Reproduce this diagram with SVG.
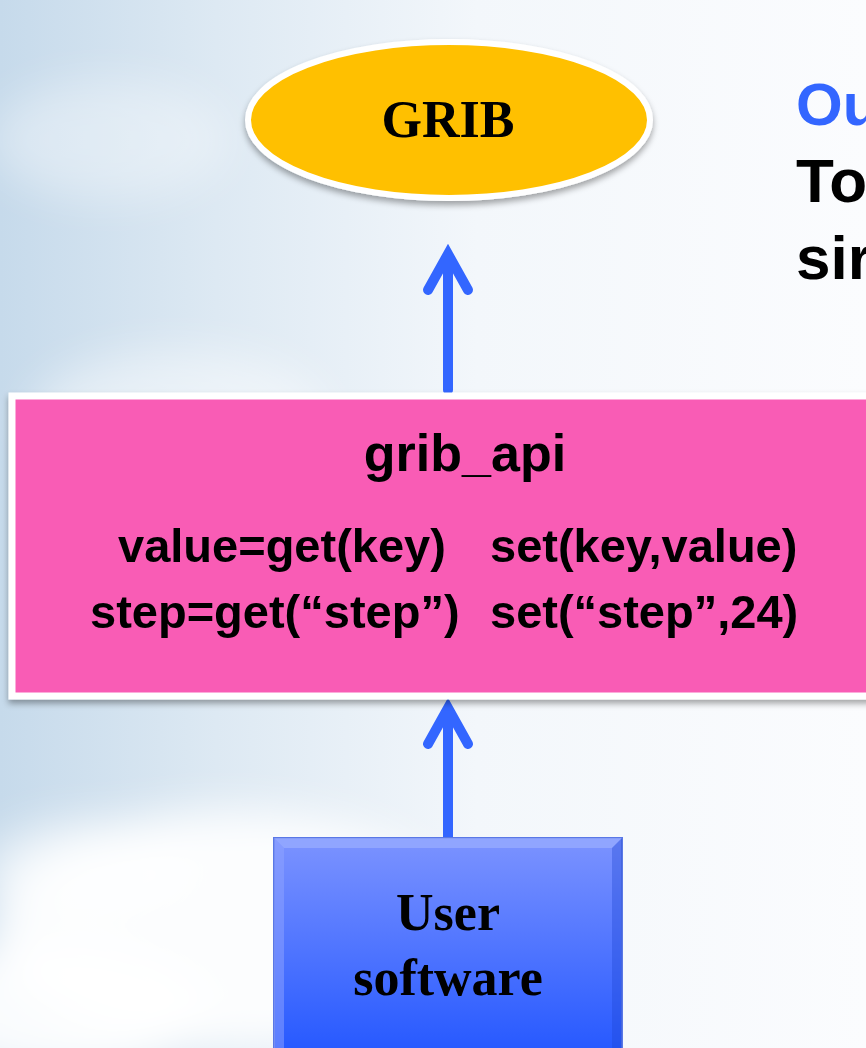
<svg xmlns="http://www.w3.org/2000/svg" width="866" height="1048" viewBox="0 0 866 1048">
<defs>
<linearGradient id="sky" x1="0" y1="0" x2="1" y2="0">
<stop offset="0" stop-color="#C6DAEB"/>
<stop offset="0.25" stop-color="#DDE9F3"/>
<stop offset="0.55" stop-color="#F3F7FB"/>
<stop offset="1" stop-color="#FBFCFE"/>
</linearGradient>
<linearGradient id="userg" x1="0" y1="0" x2="0" y2="1">
<stop offset="0" stop-color="#7C93FF"/>
<stop offset="1" stop-color="#2457FF"/>
</linearGradient>
<filter id="blur" x="-50%" y="-50%" width="200%" height="200%"><feGaussianBlur stdDeviation="22"/></filter>
<filter id="shadow" x="-10%" y="-10%" width="120%" height="130%"><feDropShadow dx="0" dy="4" stdDeviation="3" flood-color="#000" flood-opacity="0.35"/></filter>
</defs>
<style>
.conn{stroke:#3366FF;stroke-width:10;fill:none;stroke-linecap:round;stroke-linejoin:miter}
.serif{font-family:"Liberation Serif","Times New Roman",serif;font-weight:bold;fill:#000}
.sans{font-family:"Liberation Sans",Arial,sans-serif;font-weight:bold;fill:#000}
</style>
<rect x="0" y="0" width="866" height="1048" fill="url(#sky)"/>
<g filter="url(#blur)" fill="#FFFFFF">
<ellipse cx="110" cy="140" rx="120" ry="60" opacity="0.35"/>
<ellipse cx="180" cy="420" rx="150" ry="70" opacity="0.45"/>
<ellipse cx="230" cy="930" rx="240" ry="120" opacity="0.9"/>
<ellipse cx="60" cy="1010" rx="150" ry="70" opacity="0.9"/>
<ellipse cx="90" cy="870" rx="110" ry="50" opacity="0.6"/>
</g>
<g id="connectors">
<path class="conn" d="M448 390 V254 M428 290 L448 254 L468 290"/>
<path class="conn" d="M448 838 V708 M428 744 L448 708 L468 744"/>
</g>
<g id="grib">
<ellipse cx="449" cy="120" rx="201" ry="78" fill="#FFC000" stroke="#FFFFFF" stroke-width="6" filter="url(#shadow)"/>
<text class="serif" x="448" y="137" font-size="52" text-anchor="middle">GRIB</text>
</g>
<g id="grib_api">
<rect x="12" y="396" width="870" height="300" fill="#F95BB5" stroke="#FFFFFF" stroke-width="7" filter="url(#shadow)"/>
<text class="sans" x="465" y="471" font-size="52" text-anchor="middle">grib_api</text>
<text class="sans" x="118" y="562" font-size="47">value=get(key)</text>
<text class="sans" x="490" y="562" font-size="47">set(key,value)</text>
<text class="sans" x="90" y="628" font-size="47">step=get(“step”)</text>
<text class="sans" x="490" y="628" font-size="47">set(“step”,24)</text>
</g>
<g id="user">
<rect x="274" y="838" width="348" height="220" fill="url(#userg)" stroke="#5A78E6" stroke-width="2"/>
<path d="M274 838 L622 838 L612 848 L284 848 Z" fill="#9AAEFF" opacity="0.7"/>
<path d="M274 838 L284 848 L284 1048 L274 1048 Z" fill="#8FA4FF" opacity="0.5"/>
<path d="M622 838 L612 848 L612 1048 L622 1048 Z" fill="#1D45D0" opacity="0.35"/>
<text class="serif" x="448" y="930" font-size="52" text-anchor="middle">User</text>
<text class="serif" x="448" y="995" font-size="52" text-anchor="middle">software</text>
</g>
<g id="heading">
<text class="sans" x="796" y="125" font-size="60" style="fill:#3366FF">Ou</text>
<text class="sans" x="796" y="202" font-size="62">To</text>
<text class="sans" x="796" y="279" font-size="62">sir</text>
</g>
</svg>
